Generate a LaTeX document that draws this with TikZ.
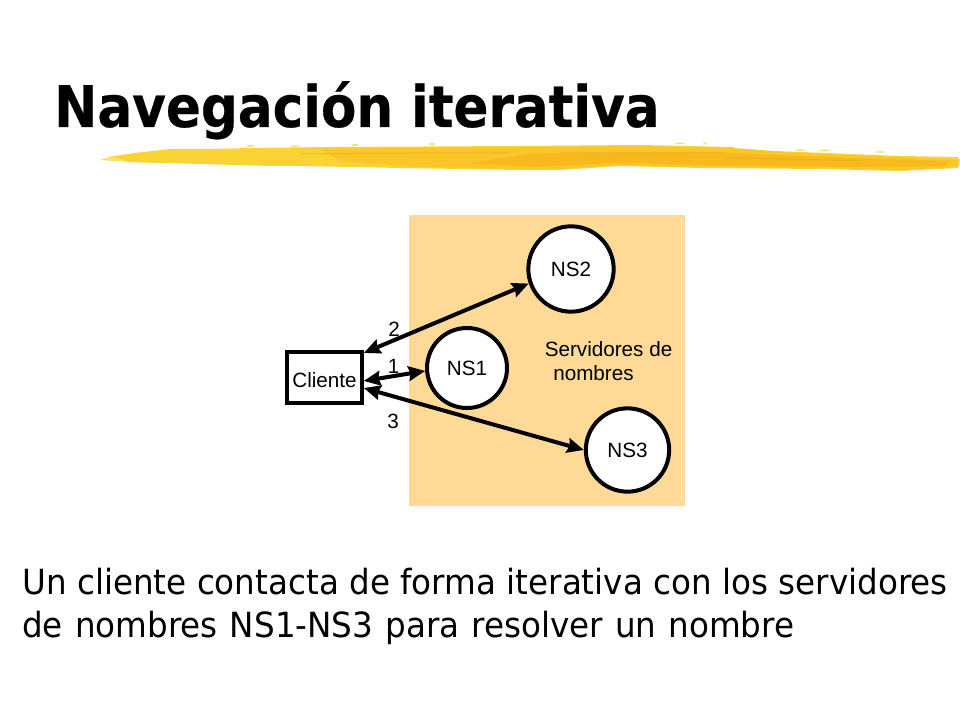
\documentclass[tikz,border=0pt]{standalone}
\usepackage{fontspec}
\setmainfont{Liberation Sans}
\newfontfamily\titlefont{DejaVu Sans}[BoldFeatures={FakeStretch=0.9,FakeBold=0.4}]
\newfontfamily\bodyfont{DejaVu Sans}[FakeStretch=0.94]
\usetikzlibrary{arrows.meta}
\definecolor{panel}{HTML}{FEDA96}
\definecolor{brusha}{HTML}{FBE06A}
\definecolor{brushb}{HTML}{FAD334}
\definecolor{brushc}{HTML}{FBC627}
\definecolor{brushd}{HTML}{F8B91C}
\definecolor{brushe}{HTML}{E8B226}
\tikzset{
  nsnode/.style={circle,draw=black,fill=white,line width=3pt,inner sep=0pt,font=\fontsize{15.5}{18}\selectfont},
  clientbox/.style={rectangle,draw=black,fill=white,line width=3pt,inner sep=0pt,minimum width=56pt,minimum height=38pt,font=\fontsize{15.5}{18}\selectfont},
  link/.style={line width=3pt,black,{Stealth[length=12.5pt,width=11pt,inset=1.5pt]}-{Stealth[length=12.5pt,width=11pt,inset=1.5pt]}},
  lbl/.style={inner sep=0pt,font=\fontsize{15.5}{18}\selectfont},
  bodytext/.style={inner sep=0pt,anchor=base west,font=\bodyfont\fontsize{26}{30}\selectfont},
  speck/.style={fill=brushb,opacity=.7},
}
\begin{document}
\begin{tikzpicture}[x=0.75pt,y=-0.75pt]
\useasboundingbox (0,0) rectangle (960,720);
\fill[white] (0,0) rectangle (960,720);
% brush stroke
\fill[brusha] (100,160) -- (112,156) -- (130,154) -- (170,150) -- (200,151) -- (240,150) -- (170,163) -- (130,162) -- cycle;
\fill[brushb]
 (112,157) -- (135,153) -- (170,149) -- (210,149) -- (250,148) -- (330,147) -- (520,146)
 -- (640,145) -- (733,147) -- (737,150) -- (800,152) -- (900,156) -- (957,157)
 -- (960,160) -- (958,168) -- (900,171) -- (820,169) -- (700,168) -- (620,166) -- (560,170)
 -- (520,170) -- (400,168) -- (300,166) -- (270,166) -- (130,162) -- cycle;
\fill[brushc] (320,149) -- (400,148) -- (520,147) -- (640,146) -- (733,148) -- (800,153) -- (900,157) -- (958,160)
 -- (957,167) -- (900,170) -- (820,168) -- (700,167) -- (620,165) -- (560,169) -- (520,169) -- (420,167) -- (345,162) -- (330,155) -- cycle;
\fill[brushd] (530,154) -- (640,152) -- (730,153) -- (850,158) -- (950,161) -- (945,166) -- (850,167) -- (700,165) -- (620,163) -- (530,167) -- (470,163) -- cycle;
\fill[brushe,opacity=.7] (560,152.5) -- (725,152) -- (725,153) -- (560,154) -- cycle;
\fill[brushe,opacity=.7] (725,157) -- (860,160) -- (860,161) -- (725,159) -- cycle;
\fill[brushe,opacity=.5] (300,153) -- (510,152) -- (510,153.5) -- (300,154.5) -- cycle;
\fill[speck] (250,146) ellipse (4 and 1);
\fill[speck] (295,146) ellipse (5 and .8);
\fill[speck] (355,145) ellipse (4 and 1);
\fill[speck] (432,144) ellipse (3 and 1);
\fill[speck] (680,143.5) ellipse (5 and .8);
\fill[speck] (705,143.5) ellipse (2 and .8);
\fill[speck] (800,150) ellipse (5 and .8);
\fill[speck] (825,150.5) ellipse (6 and .8);
\fill[speck] (880,152) ellipse (5 and .8);
% panel
\fill[panel] (409,215) rectangle (685,506);
\draw[white,line width=.6pt] (681,218) -- (681,500);
% nodes
\node[clientbox] (cliente) at (324.5,377.5) {\raisebox{-2pt}[\height][\depth]{Cliente}};
\node[nsnode,minimum size=60pt] (ns1) at (467,368) {NS1};
\node[nsnode,minimum size=64pt] (ns2) at (571,269) {NS2};
\node[nsnode,minimum size=62.5pt] (ns3) at (627.5,450) {NS3};
% links
\draw[link] (cliente.32) -- (ns2.199);
\draw[link] (cliente.-5) -- (ns1.184);
\draw[link] (cliente.-15) -- (ns3.180);
% labels
\node[lbl] (l2) at (394,329) {2};
\node[lbl] (l1) at (393.5,366) {1};
\node[lbl] (l3) at (393,421) {3};
\node[lbl,anchor=base west] (s1) at (544.5,356) {Servidores de};
\node[lbl,anchor=base west] (s2) at (553,380) {nombres};
% title
\node[inner sep=0pt,anchor=base west,font=\titlefont\bfseries\fontsize{43}{50}\selectfont] (title) at (54,127) {Navegación iterativa};
% body
\node[bodytext] (b1) at (22,594) {Un cliente contacta de forma iterativa con los servidores};
\node[bodytext] (b2) at (22,637) {\spaceskip=0.35em de nombres NS1-NS3 para resolver un nombre};
\end{tikzpicture}
\end{document}
